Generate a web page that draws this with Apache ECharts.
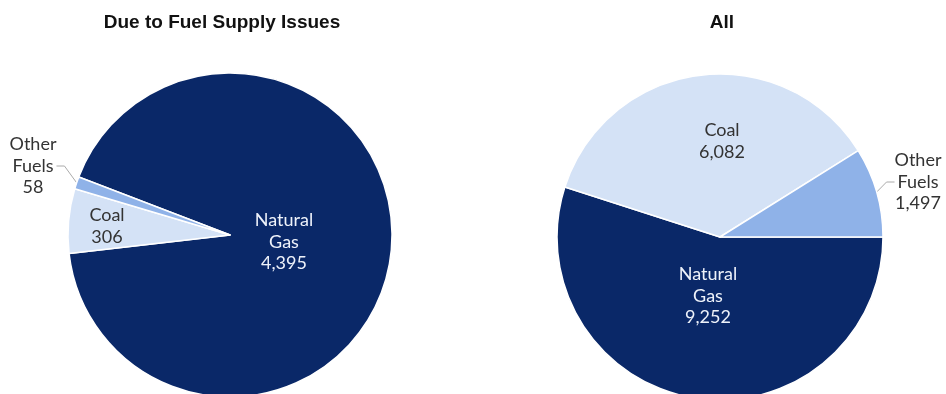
<!DOCTYPE html>
<html><head><meta charset="utf-8">
<style>html,body{margin:0;padding:0;background:#fff}#c{width:946px;height:394px}</style>
<script src="https://cdn.jsdelivr.net/npm/echarts@6/dist/echarts.min.js"></script>
</head><body><div id="c"></div>
<script>
const titles = ['Due to Fuel Supply Issues', 'All'];
const categories = ['Natural\nGas', 'Coal', 'Other\nFuels'];
const fuelSupplyValues = [4395, 306, 58];
const allValues = [9252, 6082, 1497];
const colors = ['#0a2868', '#d4e2f6', '#8fb2e8'];
const textColors = ['#eef2fa', '#333333', '#333333'];

function fmt(v){ return v.toLocaleString('en-US'); }
function mkData(vals){
  return vals.map((v,i)=>({name:categories[i], value:v,
    itemStyle:{color:colors[i]},
    label:{color:textColors[i]}}));
}
const labelBase = {
  formatter: p => p.name + '\n' + fmt(p.value),
  fontFamily: 'Lato', fontSize: 18, lineHeight: 21.5, align: 'center', overflow: 'none'
};
const leftLayout = [
  {x:284, y:242}, {x:107, y:226}, {x:33, y:166}
];
const rightLayout = [
  {x:708, y:296}, {x:722, y:141}, {x:918, y:182}
];
const titleStyle = {fontFamily:'Liberation Sans', fontWeight:'bold', fontSize:19, color:'#111'};
const chart = echarts.init(document.getElementById('c'));
chart.setOption({
  animation:false,
  title:[
    {text:titles[0], left:217, top:8, textAlign:'center', textStyle:titleStyle},
    {text:titles[1], left:717, top:8, textAlign:'center', textStyle:titleStyle}
  ],
  series:[
    {type:'pie', center:[230,235], radius:[0,162], startAngle:159, clockwise:true,
     data: mkData(fuelSupplyValues),
     itemStyle:{borderColor:'#fff', borderWidth:1.5},
     label:Object.assign({position:'outside'}, labelBase),
     labelLine:{show:true, length:8, length2:8, smooth:false, lineStyle:{color:'#aaa', width:1}},
     labelLayout: p => Object.assign({align:'center', verticalAlign:'middle'}, leftLayout[p.dataIndex]),
     emphasis:{disabled:true}
    },
    {type:'pie', center:[720,237], radius:[0,163], startAngle:0, clockwise:true,
     data: mkData(allValues),
     itemStyle:{borderColor:'#fff', borderWidth:1.5},
     label:Object.assign({position:'outside'}, labelBase),
     labelLine:{show:true, length:8, length2:8, smooth:false, lineStyle:{color:'#aaa', width:1}},
     labelLayout: p => Object.assign({align:'center', verticalAlign:'middle'}, rightLayout[p.dataIndex]),
     emphasis:{disabled:true}
    }
  ]
});
</script></body></html>
